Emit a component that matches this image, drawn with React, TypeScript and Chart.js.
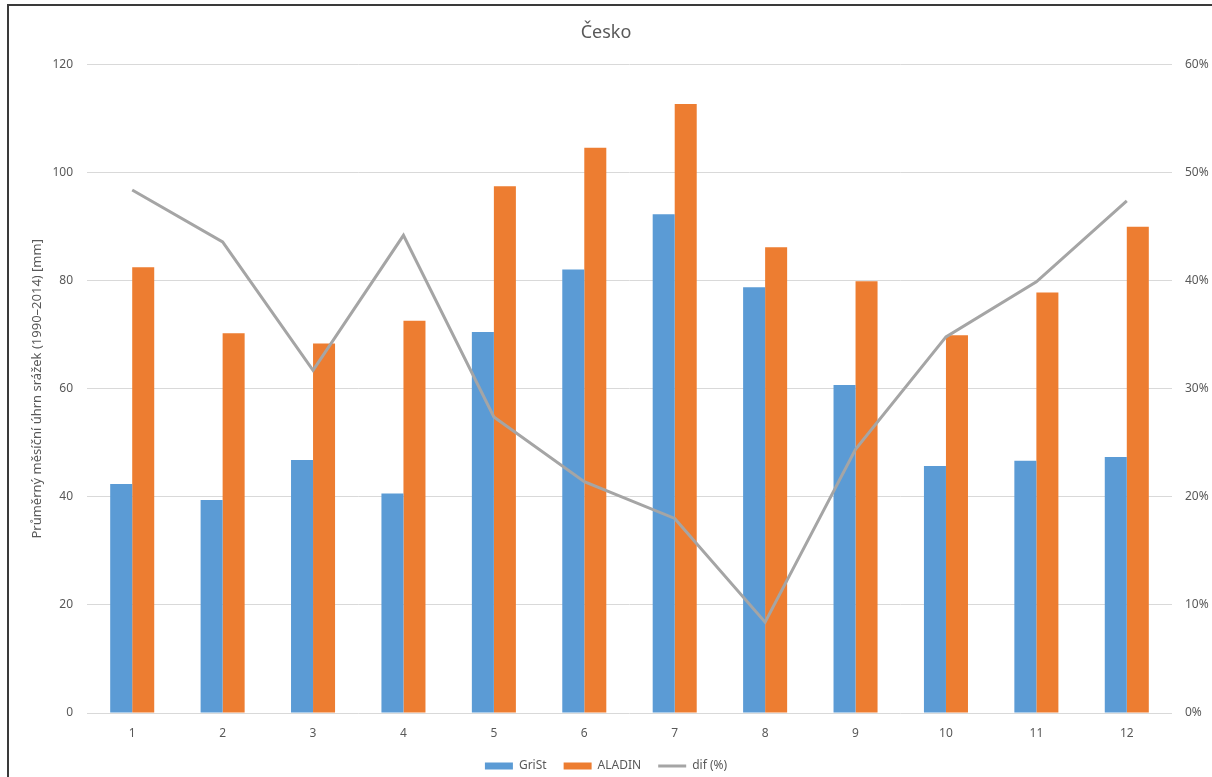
import React, { useEffect, useRef } from "react";
import { Chart, registerables } from "chart.js";

Chart.register(...registerables);

// Months of the year (category axis)
const months = ["1", "2", "3", "4", "5", "6", "7", "8", "9", "10", "11", "12"];

// Mean monthly precipitation totals 1990–2014 [mm]
const gristValues = [42.4, 39.4, 46.8, 40.6, 70.5, 82.1, 92.3, 78.8, 60.7, 45.7, 46.7, 47.4];
const aladinValues = [82.5, 70.3, 68.4, 72.6, 97.5, 104.6, 112.7, 86.2, 79.9, 69.9, 77.8, 90.0];

// Relative difference between the two sources [%]
const difPercent = [48.4, 43.6, 31.7, 44.2, 27.4, 21.4, 18.0, 8.4, 24.4, 34.8, 39.9, 47.4];

const seriesLabels = ["GriSt", "ALADIN", "dif (%)"];
const chartTitle = "Česko";
const leftAxisTitle = "Průměrný měsíční úhrn srážek (1990–2014) [mm]";

const TEXT = "#595959";
const FONT = "'Noto Sans', 'DejaVu Sans', sans-serif";

export default function App() {
  const canvasRef = useRef<HTMLCanvasElement | null>(null);

  useEffect(() => {
    const canvas = canvasRef.current;
    if (!canvas) return;

    Chart.defaults.font.family = FONT;
    Chart.defaults.color = TEXT;

    const chart = new Chart(canvas, {
      type: "bar",
      data: {
        labels: months,
        datasets: [
          {
            type: "bar",
            label: seriesLabels[0],
            data: gristValues,
            backgroundColor: "#5b9bd5",
            borderWidth: 0,
            yAxisID: "y",
            order: 1,
            categoryPercentage: 0.487,
            barPercentage: 1,
          },
          {
            type: "bar",
            label: seriesLabels[1],
            data: aladinValues,
            backgroundColor: "#ed7d31",
            borderWidth: 0,
            yAxisID: "y",
            order: 1,
            categoryPercentage: 0.487,
            barPercentage: 1,
          },
          {
            type: "line",
            label: seriesLabels[2],
            data: difPercent,
            borderColor: "#a5a5a5",
            backgroundColor: "#a5a5a5",
            borderWidth: 3,
            pointRadius: 0,
            tension: 0,
            yAxisID: "y1",
            order: 0,
          },
        ],
      } as any,
      options: {
        responsive: false,
        animation: false,
        devicePixelRatio: 1,
        layout: { padding: { left: 0, right: 0, top: 0, bottom: 0 } },
        plugins: {
          tooltip: { enabled: false },
          title: {
            display: true,
            text: chartTitle,
            color: TEXT,
            font: { size: 18, weight: "normal", family: FONT },
            padding: { top: 22, bottom: 21 },
          },
          legend: {
            position: "bottom",
            labels: {
              usePointStyle: true,
              pointStyleWidth: 28,
              boxHeight: 7,
              padding: 17,
              color: TEXT,
              font: { size: 12, family: FONT },
              generateLabels: (c: any) =>
                c.data.datasets.map((ds: any, i: number) => {
                  const isLine = ds.type === "line";
                  return {
                    text: ds.label,
                    fillStyle: isLine ? "rgba(0,0,0,0)" : ds.backgroundColor,
                    strokeStyle: isLine ? ds.borderColor : ds.backgroundColor,
                    lineWidth: isLine ? 3 : 0,
                    pointStyle: isLine ? "line" : "rect",
                    fontColor: TEXT,
                    hidden: false,
                    datasetIndex: i,
                  };
                }),
            },
          },
        },
        scales: {
          x: {
            grid: { display: false, drawTicks: false },
            border: { display: false },
            ticks: { padding: 13, color: TEXT, font: { size: 12 } },
            afterFit: (s: any) => {
              s.height = 30;
            },
          },
          y: {
            position: "left",
            min: 0,
            max: 120,
            ticks: { stepSize: 20, padding: 14, color: TEXT, font: { size: 12 } },
            grid: { color: "#d9d9d9", lineWidth: 1, drawTicks: false },
            border: { display: false },
            title: {
              display: true,
              text: leftAxisTitle,
              color: TEXT,
              font: { size: 13, family: FONT },
              padding: { top: 29, bottom: 0 },
            },
            afterFit: (s: any) => {
              s.width = 87;
            },
          },
          y1: {
            position: "right",
            min: 0,
            max: 60,
            ticks: {
              stepSize: 10,
              padding: 13,
              color: TEXT,
              font: { size: 12 },
              callback: (v: any) => `${v}%`,
            },
            grid: { display: false, drawTicks: false },
            border: { display: false },
            afterFit: (s: any) => {
              s.width = 40;
            },
          },
        },
      } as any,
    });

    return () => chart.destroy();
  }, []);

  return (
    <div
      style={{
        position: "fixed",
        left: 0,
        top: 0,
        width: 1212,
        height: 777,
        overflow: "hidden",
        background: "#ffffff",
      }}
    >
      <canvas ref={canvasRef} width={1212} height={782} style={{ display: "block" }} />
      <div
        style={{
          position: "absolute",
          left: 7,
          top: 4,
          width: 1400,
          height: 1000,
          borderLeft: "2px solid #3a3a3a",
          borderTop: "2px solid #3a3a3a",
          pointerEvents: "none",
        }}
      />
    </div>
  );
}
